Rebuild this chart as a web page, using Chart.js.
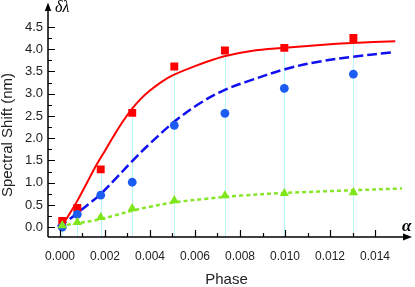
<!DOCTYPE html>
<html><head><meta charset="utf-8">
<script src="https://cdn.jsdelivr.net/npm/chart.js@4/dist/chart.umd.min.js"></script>
<style>html,body{margin:0;padding:0;background:#fff;overflow:hidden}</style>
</head><body>
<canvas id="c" width="415" height="287"></canvas>
<script>
// measured points
const phase      = [0.0001, 0.00077, 0.00181, 0.00321, 0.00508, 0.00733, 0.00997, 0.01304];
const redShift   = [0.14, 0.43, 1.30, 2.57, 3.61, 3.97, 4.03, 4.25];
const blueShift  = [0.00, 0.29, 0.72, 1.01, 2.29, 2.56, 3.12, 3.44];
const greenShift = [0.04, 0.11, 0.22, 0.42, 0.60, 0.71, 0.76, 0.78];
// fitted curves
const redFitX = [0.0001, 0.0004, 0.0008, 0.0012, 0.0016, 0.0020, 0.0024, 0.0028, 0.0032, 0.0036, 0.0040, 0.0045, 0.0050, 0.0060, 0.0073, 0.0085, 0.0100, 0.0120, 0.0130, 0.0149];
const redFitY = [0.04, 0.28, 0.62, 1.00, 1.38, 1.72, 2.06, 2.38, 2.66, 2.89, 3.07, 3.26, 3.41, 3.62, 3.84, 3.96, 4.03, 4.11, 4.14, 4.18];
const blueFitX = [-0.0001, 0.0004, 0.0008, 0.0014, 0.0018, 0.0024, 0.0032, 0.0040, 0.0051, 0.0062, 0.0073, 0.0083, 0.0100, 0.0115, 0.0130, 0.0148];
const blueFitY = [0.02, 0.17, 0.33, 0.57, 0.74, 1.05, 1.48, 1.88, 2.38, 2.78, 3.08, 3.27, 3.55, 3.72, 3.83, 3.93];
const greenFitX = [0.0, 0.0008, 0.0017, 0.0024, 0.0032, 0.0040, 0.0051, 0.0065, 0.0080, 0.0100, 0.0130, 0.0152];
const greenFitY = [0.03, 0.09, 0.17, 0.26, 0.37, 0.46, 0.56, 0.64, 0.71, 0.77, 0.83, 0.87];
// ticks
const xTicks = [0, 0.002, 0.004, 0.006, 0.008, 0.010, 0.012, 0.014];
const xMinorTicks = [0.001, 0.003, 0.005, 0.007, 0.009, 0.011, 0.013];
const yTicks = [0, 0.5, 1.0, 1.5, 2.0, 2.5, 3.0, 3.5, 4.0, 4.5];
const yMinorTicks = [0.25, 0.75, 1.25, 1.75, 2.25, 2.75, 3.25, 3.75, 4.25];
const xTitle = 'Phase';
const yTitle = 'Spectral Shift (nm)';

const pts = (xs, ys) => xs.map((x, i) => ({x: x, y: ys[i]}));
const SANS = "'Liberation Sans', Arial, sans-serif";
const SERIF = "'Liberation Serif', 'DejaVu Serif', serif";

const decor = {
  id: 'decor',
  beforeDatasetsDraw(chart) {
    const {ctx, chartArea} = chart;
    const xs = chart.scales.x, ys = chart.scales.y;
    ctx.save();
    ctx.strokeStyle = '#b6f6fb';
    ctx.lineWidth = 1;
    phase.forEach((p, i) => {
      const px = Math.round(xs.getPixelForValue(p)) + 0.5;
      ctx.beginPath();
      ctx.moveTo(px, ys.getPixelForValue(redShift[i]));
      ctx.lineTo(px, chartArea.bottom);
      ctx.stroke();
    });
    ctx.restore();
  },
  afterDraw(chart) {
    const {ctx, chartArea} = chart;
    const xs = chart.scales.x, ys = chart.scales.y;
    const ax = chartArea.left, ay = chartArea.bottom;
    ctx.save();
    ctx.strokeStyle = '#000'; ctx.fillStyle = '#000';
    ctx.lineWidth = 1.5;
    ctx.beginPath();
    ctx.moveTo(ax, ay); ctx.lineTo(ax, 9);
    ctx.moveTo(ax, ay); ctx.lineTo(404, ay);
    ctx.stroke();
    ctx.beginPath();
    ctx.moveTo(ax, 2.5); ctx.lineTo(ax - 3.2, 11); ctx.lineTo(ax + 3.2, 11); ctx.closePath(); ctx.fill();
    ctx.beginPath();
    ctx.moveTo(412, ay); ctx.lineTo(403, ay - 3.6); ctx.lineTo(403, ay + 3.6); ctx.closePath(); ctx.fill();
    ctx.lineWidth = 1.2;
    ctx.beginPath();
    xTicks.forEach(v => { const p = Math.round(xs.getPixelForValue(v)) + 0.5; ctx.moveTo(p, ay); ctx.lineTo(p, ay - 7); });
    xMinorTicks.forEach(v => { const p = Math.round(xs.getPixelForValue(v)) + 0.5; ctx.moveTo(p, ay); ctx.lineTo(p, ay - 4); });
    yTicks.forEach(v => { const p = Math.round(ys.getPixelForValue(v)) + 0.5; ctx.moveTo(ax, p); ctx.lineTo(ax + 7, p); });
    yMinorTicks.forEach(v => { const p = Math.round(ys.getPixelForValue(v)) + 0.5; ctx.moveTo(ax, p); ctx.lineTo(ax + 4, p); });
    ctx.stroke();
    ctx.font = 'italic 16px ' + SERIF;
    ctx.textAlign = 'left'; ctx.textBaseline = 'alphabetic';
    ctx.fillText('δλ', 55, 12);
    ctx.font = 'bold italic 17px ' + SERIF;
    ctx.fillText('α', 402, 231);
    ctx.fillStyle = '#222';
    ctx.font = '15px ' + SANS;
    ctx.translate(8, 135);
    ctx.rotate(-Math.PI / 2);
    ctx.textAlign = 'center'; ctx.textBaseline = 'middle';
    ctx.fillText(yTitle, 0, 0);
    ctx.restore();
  }
};

new Chart(document.getElementById('c'), {
  data: {
    datasets: [
      {type: 'line', data: pts(redFitX, redFitY), borderColor: '#ff0000', borderWidth: 2, pointRadius: 0, tension: 0.35, fill: false, order: 6},
      {type: 'line', data: pts(blueFitX, blueFitY), borderColor: '#1010f0', borderWidth: 2.5, borderDash: [10, 4], pointRadius: 0, tension: 0.35, fill: false, order: 5},
      {type: 'line', data: pts(greenFitX, greenFitY), borderColor: '#88e62a', borderWidth: 2.5, borderDash: [4, 3], pointRadius: 0, tension: 0.35, fill: false, order: 4},
      {type: 'scatter', data: pts(phase, redShift), pointStyle: 'rect', pointRadius: 5.6, backgroundColor: '#ff0000', borderColor: '#ff0000', borderWidth: 0, order: 3},
      {type: 'scatter', data: pts(phase, blueShift), pointStyle: 'circle', pointRadius: 4.4, backgroundColor: '#1c5cf2', borderColor: '#1c5cf2', borderWidth: 0, order: 2},
      {type: 'scatter', data: pts(phase, greenShift), pointStyle: 'triangle', pointRadius: 5.4, backgroundColor: '#7fe61a', borderColor: '#7fe61a', borderWidth: 0, order: 1}
    ]
  },
  options: {
    responsive: false, animation: false, devicePixelRatio: 1,
    layout: {padding: {left: 0, top: 8, right: 10, bottom: 0}},
    plugins: {legend: {display: false}, tooltip: {enabled: false}},
    scales: {
      x: {
        type: 'linear', position: 'bottom', min: -0.000533, max: 0.015333,
        afterBuildTicks: s => { s.ticks = xTicks.map(v => ({value: v})); },
        afterFit: s => { s.height = 50; },
        grid: {display: false, drawTicks: false}, border: {display: false},
        ticks: {padding: 12, color: '#222', font: {family: SANS, size: 12}, maxRotation: 0, autoSkip: false, callback: v => v.toFixed(3)},
        title: {display: true, text: xTitle, color: '#222', font: {family: SANS, size: 15, lineHeight: 1}, padding: {top: 0, bottom: 0}}
      },
      y: {
        type: 'linear', position: 'left', min: -0.22, max: 4.818,
        afterBuildTicks: s => { s.ticks = yTicks.map(v => ({value: v})); },
        afterFit: s => { s.width = 48; },
        grid: {display: false, drawTicks: false}, border: {display: false},
        ticks: {padding: 5, color: '#222', font: {family: SANS, size: 13}, autoSkip: false, callback: v => v.toFixed(1)}
      }
    }
  },
  plugins: [decor]
});
</script>
</body></html>
